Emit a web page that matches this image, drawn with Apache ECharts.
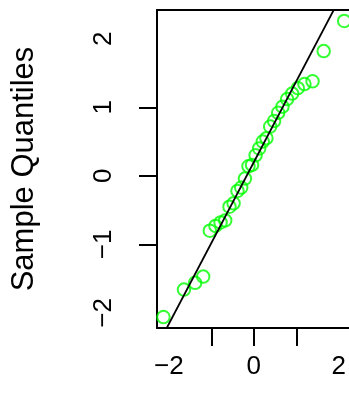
<!DOCTYPE html>
<html><head><meta charset="utf-8">
<script src="https://cdn.jsdelivr.net/npm/echarts@6/dist/echarts.min.js"></script>
<style>html,body{margin:0;padding:0;background:#fff}#c{width:349px;height:400px}</style>
</head><body><div id="c"></div>
<script>
const theoretical = [-2.128,-1.645,-1.383,-1.192,-1.036,-0.903,-0.783,-0.674,-0.573,-0.477,-0.385,-0.297,-0.210,-0.126,-0.042,0.042,0.126,0.210,0.297,0.385,0.477,0.573,0.674,0.783,0.903,1.036,1.192,1.383,1.645,2.128];
const sample = [-2.06,-1.66,-1.56,-1.47,-0.80,-0.73,-0.68,-0.65,-0.45,-0.40,-0.22,-0.17,-0.04,0.14,0.16,0.30,0.40,0.50,0.55,0.72,0.80,0.92,1.01,1.12,1.20,1.28,1.34,1.38,1.82,2.26];
const lineX = [-2.5, 2.5];
const lineY = [-2.75, 3.15];
const xTicks = [-2,-1,0,1,2];
const xLabels = [-2,0,2];
const yTicks = [-2,-1,0,1,2];
const yTitle = 'Sample Quantiles';

const fmt = v => (v < 0 ? '\u2212' + Math.abs(v) : String(v));
const XMIN = -2.28, XMAX = 2.238, YMIN = -2.22, YMAX = 2.42;
const black = {color:'#000', width:2};
const font = 'Liberation Sans, Arial';
const chart = echarts.init(document.getElementById('c'), null, {renderer:'canvas'});
chart.setOption({
  animation:false,
  grid:[
    {left:157, top:10, bottom:72, right:0},
    {left:157, right:0, top:328, height:18},
    {left:139, width:18, top:10, bottom:72}
  ],
  xAxis:[
    {gridIndex:0, type:'value', min:XMIN, max:XMAX, position:'bottom',
     axisLine:{show:true, onZero:false, lineStyle:black}, splitLine:{show:false}, axisTick:{show:false},
     axisLabel:{customValues:xLabels, formatter:fmt, color:'#000', fontSize:26, fontFamily:font, margin:26}},
    {gridIndex:0, type:'value', min:XMIN, max:XMAX, position:'top',
     axisLine:{show:true, onZero:false, lineStyle:black}, splitLine:{show:false},
     axisTick:{show:false}, axisLabel:{show:false}},
    {gridIndex:1, type:'value', min:XMIN, max:XMAX,
     axisLine:{show:false, onZero:false}, axisLabel:{show:false},
     axisTick:{show:false, customValues:xTicks},
     splitLine:{show:true, showMinLine:false, showMaxLine:false, lineStyle:black}},
    {gridIndex:2, type:'value', min:0, max:1, show:false}
  ],
  yAxis:[
    {gridIndex:0, type:'value', min:YMIN, max:YMAX, position:'left',
     name:yTitle, nameLocation:'middle', nameRotate:90, nameGap:117,
     nameTextStyle:{color:'#000', fontSize:31, fontFamily:font},
     axisLine:{show:true, onZero:false, lineStyle:black}, splitLine:{show:false}, axisTick:{show:false},
     axisLabel:{customValues:yTicks, formatter:fmt, rotate:90, color:'#000', fontSize:26, fontFamily:font, margin:40}},
    {gridIndex:1, type:'value', min:0, max:1, show:false},
    {gridIndex:2, type:'value', min:YMIN, max:YMAX,
     axisLine:{show:false, onZero:false}, axisLabel:{show:false},
     axisTick:{show:false, customValues:yTicks},
     splitLine:{show:true, showMinLine:false, showMaxLine:false, lineStyle:black}}
  ],
  series:[
    {type:'scatter', xAxisIndex:0, yAxisIndex:0, data:theoretical.map((x,i)=>[x,sample[i]]), symbol:'circle', symbolSize:12.5,
     itemStyle:{color:'rgba(0,0,0,0)', borderColor:'#00FF00', borderWidth:2}},
    {type:'line', xAxisIndex:0, yAxisIndex:0, data:lineX.map((x,i)=>[x,lineY[i]]), showSymbol:false, clip:true,
     lineStyle:{color:'#000', width:1.8}}
  ]
});
</script></body></html>
